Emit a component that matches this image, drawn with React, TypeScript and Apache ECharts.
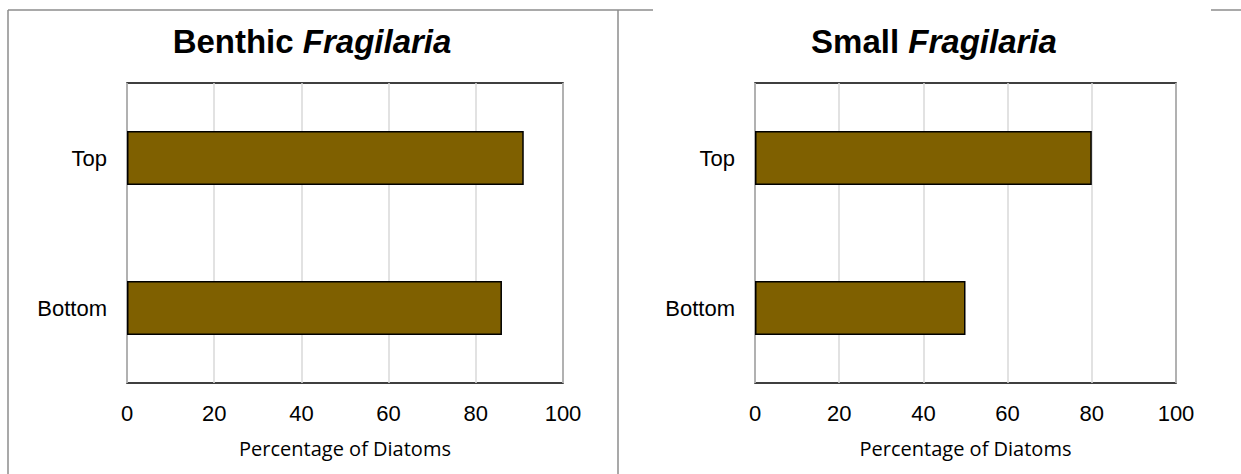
import React, { useEffect, useRef } from "react";
import * as echarts from "echarts";

const categories = ["Bottom", "Top"];
const benthicValues = [86, 91];
const smallValues = [50, 80];
const axisMin = 0;
const axisMax = 100;
const axisInterval = 20;
const titles = [
  { plain: "Benthic ", italic: "Fragilaria" },
  { plain: "Small ", italic: "Fragilaria" },
];
const axisName = "Percentage of Diatoms";

const BAR_COLOR = "#7f6000";
const GRID_LINE = "#d9d9d9";
const PANEL_LINE = "#8c8c8c";

export default function App() {
  const ref = useRef<HTMLDivElement>(null);

  useEffect(() => {
    if (!ref.current) return;
    const chart = echarts.init(ref.current, null, { renderer: "svg" });

    const grids = [
      { left: 127, top: 83, width: 436, height: 300 },
      { left: 755, top: 83, width: 421, height: 300 },
    ];
    const seriesData = [benthicValues, smallValues];

    const xAxes = grids.map((_, i) => ({
      type: "value",
      gridIndex: i,
      min: axisMin,
      max: axisMax,
      interval: axisInterval,
      axisLine: { show: false },
      axisTick: { show: false },
      splitLine: { show: true, lineStyle: { color: GRID_LINE, width: 1.5 } },
      axisLabel: {
        color: "#000",
        fontFamily: "Liberation Sans, Arial, sans-serif",
        fontSize: 22,
        margin: 19,
      },
      name: axisName,
      nameLocation: "middle",
      nameGap: 55,
      nameTextStyle: {
        color: "#000",
        fontFamily: "Open Sans, sans-serif",
        fontSize: 20,
      },
    }));

    const yAxes = grids.map((_, i) => ({
      type: "category",
      gridIndex: i,
      data: categories,
      axisLine: { show: false },
      axisTick: { show: false },
      splitLine: { show: false },
      axisLabel: {
        color: "#000",
        fontFamily: "Liberation Sans, Arial, sans-serif",
        fontSize: 22,
        margin: 20,
      },
    }));

    const series = seriesData.map((d, i) => ({
      type: "bar",
      xAxisIndex: i,
      yAxisIndex: i,
      data: d,
      barWidth: 54,
      itemStyle: { color: BAR_COLOR, borderColor: "#000", borderWidth: 1.5 },
      silent: true,
    }));

    const titleCenters = [312, 934];
    const titleGraphics = titles.map((t, i) => ({
      type: "text",
      x: titleCenters[i],
      y: 41,
      style: {
        text: `{b|${t.plain}}{i|${t.italic}}`,
        align: "center",
        verticalAlign: "middle",
        rich: {
          b: {
            fontFamily: "Liberation Sans, Arial, sans-serif",
            fontWeight: "bold",
            fontSize: 33,
            fill: "#000",
          },
          i: {
            fontFamily: "Liberation Sans, Arial, sans-serif",
            fontWeight: "bold",
            fontStyle: "italic",
            fontSize: 33,
            fill: "#000",
          },
        },
      },
    }));

    const borderStyle = { stroke: PANEL_LINE, lineWidth: 1.5 };
    const panelLines = [
      { x1: 8, y1: 10, x2: 8, y2: 474 },
      { x1: 8, y1: 10, x2: 653, y2: 10 },
      { x1: 618, y1: 10, x2: 618, y2: 474 },
      { x1: 1211, y1: 10, x2: 1241, y2: 10 },
    ].map((s) => ({ type: "line", shape: s, style: borderStyle, silent: true }));

    chart.setOption({
      animation: false,
      backgroundColor: "#fff",
      grid: grids.map((g) => ({
        ...g,
        show: true,
        borderColor: "#000",
        borderWidth: 1.5,
        backgroundColor: "transparent",
        containLabel: false,
      })),
      xAxis: xAxes,
      yAxis: yAxes,
      series,
      graphic: [...panelLines, ...titleGraphics],
    });

    return () => chart.dispose();
  }, []);

  return (
    <div
      ref={ref}
      style={{ position: "absolute", left: 0, top: 0, width: 1241, height: 474 }}
    />
  );
}
